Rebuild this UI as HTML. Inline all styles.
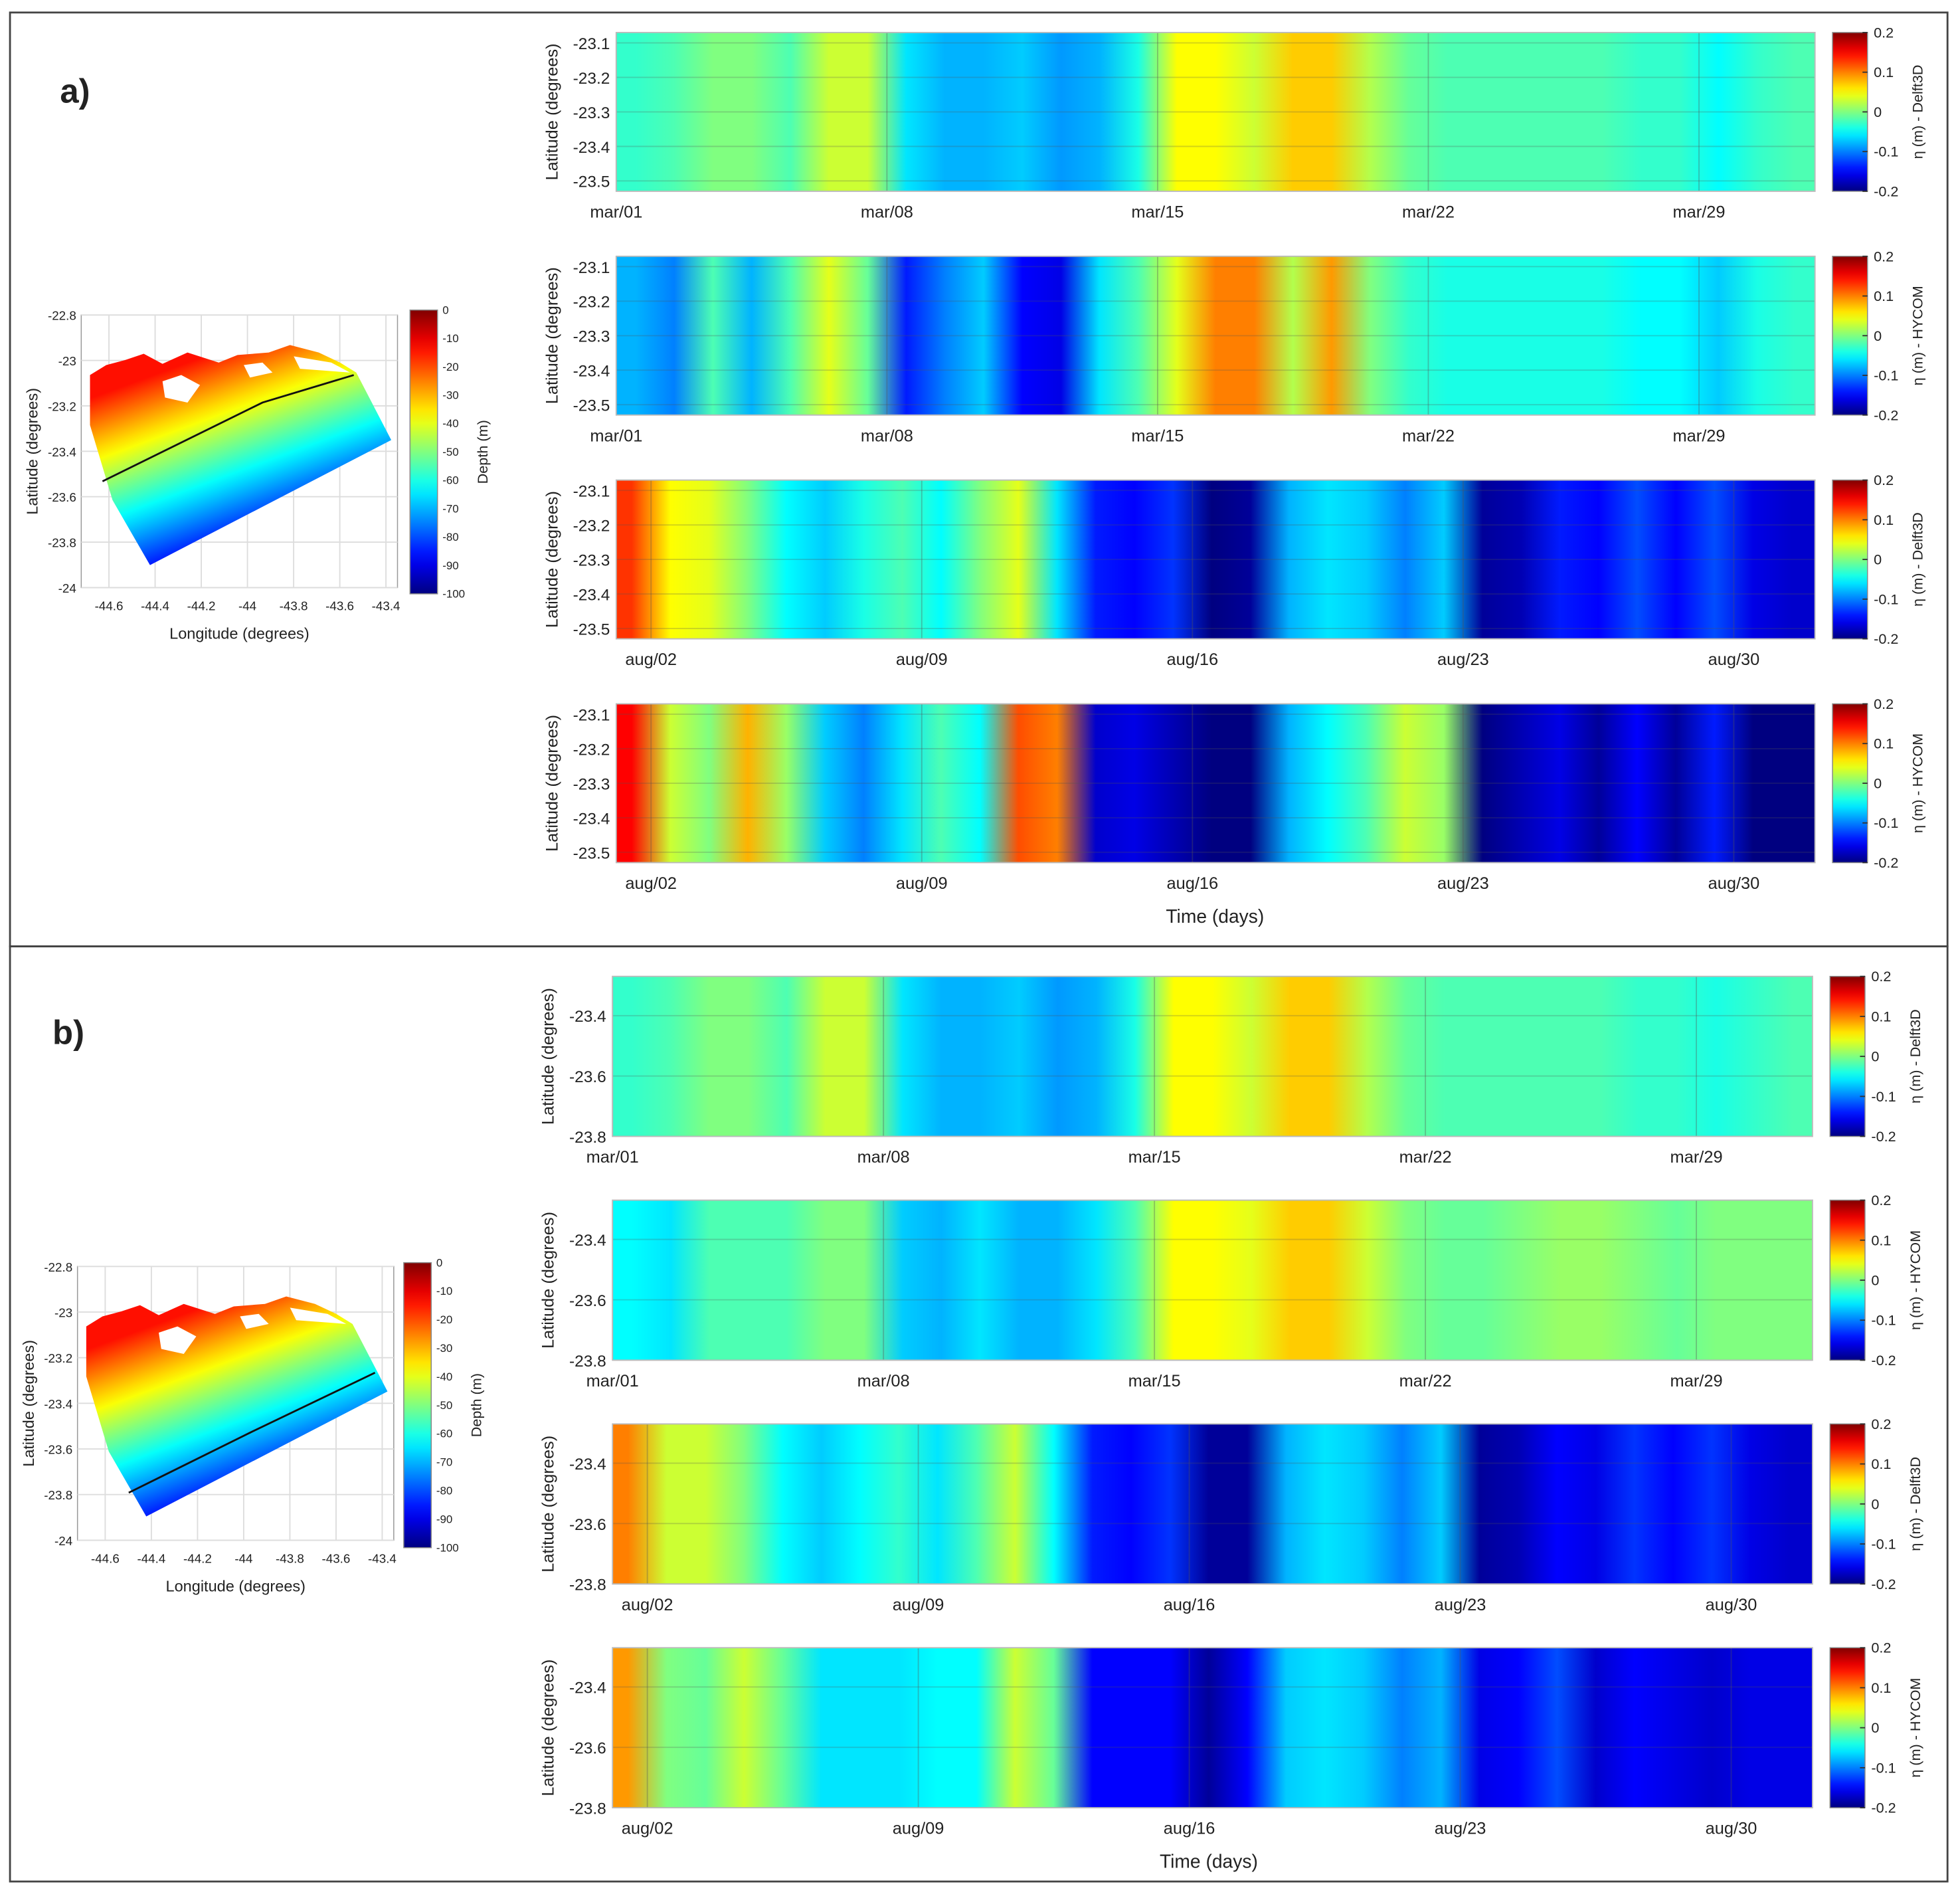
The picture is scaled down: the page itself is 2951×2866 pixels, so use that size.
<!DOCTYPE html>
<html><head><meta charset="utf-8"><style>
html,body{margin:0;padding:0;background:#fff}
svg{display:block}
text{font-family:"Liberation Sans",sans-serif;fill:#222}
</style></head><body>
<svg id="fig" xmlns="http://www.w3.org/2000/svg" width="2951" height="2866" viewBox="0 0 1568 1523" preserveAspectRatio="none">
<defs id="defs"></defs>
<rect x="0" y="0" width="1568" height="1523" fill="#fff"/>
<rect x="8" y="10" width="1550" height="747" fill="none" stroke="#444" stroke-width="1.5"/>
<rect x="8" y="757" width="1550" height="748" fill="none" stroke="#444" stroke-width="1.5"/>
<text x="48" y="82" font-size="27" font-weight="bold">a)</text>
<text x="42" y="835" font-size="27" font-weight="bold">b)</text>
<g id="root"></g>
</svg>
<script>
// ---- data: sea level anomaly (m) per day, days 1..31 ----
const days = Array.from({length:31},(_,i)=>i+1);
const marTicks = ["mar/01","mar/08","mar/15","mar/22","mar/29"];
const marTickDays = [1,8,15,22,29];
const augTicks = ["aug/02","aug/09","aug/16","aug/23","aug/30"];
const augTickDays = [2,9,16,23,30];
const latTicksA = [-23.1,-23.2,-23.3,-23.4,-23.5];
const latTicksB = [-23.4,-23.6,-23.8];
const cbTicks = [0.2,0.1,0,-0.1,-0.2];
const depthTicks = [0,-10,-20,-30,-40,-50,-60,-70,-80,-90,-100];
const lonTicks = [-44.6,-44.4,-44.2,-44,-43.8,-43.6,-43.4];
const mapLatTicks = [-22.8,-23,-23.2,-23.4,-23.6,-23.8,-24];

const a1 = [-0.03,-0.02,0.0,0.0,-0.02,0.03,0.03,-0.06,-0.08,-0.08,-0.07,-0.09,-0.08,-0.04,0.05,0.05,0.03,0.07,0.07,0.02,-0.01,-0.02,-0.02,-0.02,-0.02,-0.02,-0.03,-0.03,-0.05,-0.03,-0.02];
const a2 = [-0.08,-0.1,-0.02,-0.08,-0.02,0.04,-0.01,-0.14,-0.1,-0.07,-0.15,-0.16,-0.06,-0.02,0.04,0.1,0.1,0.02,0.09,0.0,-0.03,-0.04,-0.04,-0.04,-0.04,-0.04,-0.05,-0.05,-0.07,-0.04,-0.03];
const a3 = [0.13,0.05,0.04,0.0,-0.05,-0.07,-0.04,-0.02,-0.05,0.0,0.04,-0.06,-0.14,-0.15,-0.13,-0.2,-0.19,-0.08,-0.06,-0.07,-0.1,-0.07,-0.19,-0.18,-0.14,-0.15,-0.12,-0.15,-0.12,-0.16,-0.17];
const a4 = [0.15,0.03,0.0,0.08,0.01,-0.07,-0.1,-0.06,-0.02,-0.05,0.12,0.1,-0.17,-0.16,-0.18,-0.2,-0.2,-0.08,-0.05,-0.02,0.03,0.01,-0.2,-0.18,-0.16,-0.19,-0.15,-0.19,-0.14,-0.2,-0.2];
const b1 = [-0.03,-0.02,0.0,0.0,-0.02,0.03,0.03,-0.06,-0.08,-0.08,-0.07,-0.09,-0.08,-0.04,0.05,0.05,0.03,0.07,0.07,0.02,-0.01,-0.02,-0.02,-0.02,-0.02,-0.02,-0.03,-0.03,-0.04,-0.03,-0.02];
const b2 = [-0.05,-0.06,-0.02,-0.02,-0.02,0.0,0.0,-0.07,-0.08,-0.06,-0.08,-0.08,-0.06,-0.02,0.05,0.05,0.04,0.07,0.07,0.03,0.0,-0.01,-0.01,0.0,0.01,0.01,0.0,-0.01,0.0,0.0,0.0];
const b3 = [0.1,0.03,0.03,0.0,-0.05,-0.07,-0.05,-0.03,-0.06,-0.02,0.03,-0.05,-0.14,-0.15,-0.13,-0.19,-0.19,-0.08,-0.06,-0.07,-0.1,-0.07,-0.19,-0.18,-0.15,-0.16,-0.13,-0.15,-0.13,-0.16,-0.17];
const b4 = [0.09,0.0,-0.01,0.03,-0.01,-0.06,-0.06,-0.06,-0.05,-0.05,0.03,-0.01,-0.15,-0.15,-0.15,-0.19,-0.15,-0.07,-0.06,-0.07,-0.1,-0.08,-0.16,-0.15,-0.12,-0.17,-0.15,-0.16,-0.17,-0.16,-0.16];

const NS="http://www.w3.org/2000/svg";
const root=document.getElementById('root'), defs=document.getElementById('defs');
function el(tag,attrs,parent,txt){const e=document.createElementNS(NS,tag);for(const k in attrs)e.setAttribute(k,attrs[k]);if(txt!==undefined)e.textContent=txt;(parent||root).appendChild(e);return e;}
function cl(v){return Math.max(0,Math.min(1,v));}
function jet(t){t=cl(t);const r=cl(1.5-Math.abs(4*t-3)),g=cl(1.5-Math.abs(4*t-2)),b=cl(1.5-Math.abs(4*t-1));return `rgb(${Math.round(r*255)},${Math.round(g*255)},${Math.round(b*255)})`;}
let gid=0;
function jetGrad(vertical){const id='jg'+(gid++);const g=el('linearGradient',{id,x1:0,y1:vertical?1:0,x2:vertical?0:1,y2:0},defs);for(let i=0;i<=20;i++)el('stop',{offset:i/20,'stop-color':jet(i/20)},g);return id;}

function heatmap(cfg){
  const {x0,x1,y0,y1,vals,tickLabels,tickDays,dayOffset,latTicks,latMin,latMax,model,name}=cfg;
  const g=el('g',{});
  
  
  const xs=d=>x0+(d-dayOffset)/31*(x1-x0);
  const ys=l=>y0+(l-latMin)/(latMax-latMin)*(y1-y0);
  const id='hg'+(gid++);
  const lg=el('linearGradient',{id,gradientUnits:'userSpaceOnUse',x1:x0,y1:0,x2:x1,y2:0},defs);
  days.forEach((d,i)=>{el('stop',{offset:cl((xs(d+0.5)-x0)/(x1-x0)),'stop-color':jet((vals[i]+0.2)/0.4)},lg);});
  const r=el('rect',{x:x0,y:y0,width:x1-x0,height:y1-y0,fill:`url(#${id})`},g);
  
  
  tickDays.forEach(d=>el('line',{x1:xs(d),x2:xs(d),y1:y0,y2:y1,stroke:'#555','stroke-opacity':0.35,'stroke-width':1},g));
  latTicks.forEach(l=>el('line',{x1:x0,x2:x1,y1:ys(l),y2:ys(l),stroke:'#555','stroke-opacity':0.25,'stroke-width':1},g));
  el('rect',{x:x0,y:y0,width:x1-x0,height:y1-y0,fill:'none',stroke:'#bbb','stroke-width':1},g);
  latTicks.forEach(l=>{const t=el('text',{x:x0-5,y:ys(l)+5,'font-size':13,'text-anchor':'end'},g,String(l));});
  tickLabels.forEach((lab,i)=>{const t=el('text',{x:xs(tickDays[i]),y:y1+21,'font-size':13.5,'text-anchor':'middle'},g,lab);});
  const yl=el('text',{x:0,y:0,'font-size':13.5,'text-anchor':'middle',transform:`translate(${x0-47},${(y0+y1)/2}) rotate(-90)`},g,'Latitude (degrees)');
  
  const cx=x1+14,cw=28;
  const cid=jetGrad(true);
  const cb=el('rect',{x:cx,y:y0,width:cw,height:y1-y0,fill:`url(#${cid})`,stroke:'#888','stroke-width':0.8},g);
  
  cbTicks.forEach(v=>{const yy=y0+(0.2-v)/0.4*(y1-y0);el('line',{x1:cx+cw-4,x2:cx+cw,y1:yy,y2:yy,stroke:'#333'},g);const t=el('text',{x:cx+cw+5,y:yy+4,'font-size':11.5},g,String(v));});
  const ct=el('text',{x:0,y:0,'font-size':11.5,'text-anchor':'middle',transform:`translate(${cx+cw+44},${(y0+y1)/2}) rotate(-90)`},g,'η (m) - '+model);
  
}

const A=[[26,153],[205,332],[384,511],[563,690]], B=[[781,909],[960,1088],[1139,1267],[1318,1446]];
const aVals=[a1,a2,a3,a4], bVals=[b1,b2,b3,b4], models=['Delft3D','HYCOM','Delft3D','HYCOM'];
A.forEach((r,i)=>heatmap({x0:493,x1:1452,y0:r[0],y1:r[1],vals:aVals[i],tickLabels:i<2?marTicks:augTicks,tickDays:i<2?marTickDays:augTickDays,dayOffset:i<2?1:1.1,latTicks:latTicksA,latMin:-23.07,latMax:-23.53,model:models[i],name:'heatmap-a'+(i+1)}));
B.forEach((r,i)=>heatmap({x0:490,x1:1450,y0:r[0],y1:r[1],vals:bVals[i],tickLabels:i<2?marTicks:augTicks,tickDays:i<2?marTickDays:augTickDays,dayOffset:i<2?1:1.1,latTicks:latTicksB,latMin:-23.27,latMax:-23.8,model:models[i],name:'heatmap-b'+(i+1)}));
let t=el('text',{x:972,y:738,'font-size':15,'text-anchor':'middle'},root,'Time (days)');
t=el('text',{x:967,y:1494,'font-size':15,'text-anchor':'middle'},root,'Time (days)');

function map(cfg){
  const {ax0,ax1,ay0,ay1,cbx,cby0,cby1,line,name}=cfg;
  const g=el('g',{});
  
  const xs=v=>ax0+(v+44.72)/1.37*(ax1-ax0);
  const ys=v=>ay0+(-22.8-v)/1.2*(ay1-ay0);
  el('rect',{x:ax0,y:ay0,width:ax1-ax0,height:ay1-ay0,fill:'#fff',stroke:'#999','stroke-width':0.8},g);
  lonTicks.forEach(v=>{el('line',{x1:xs(v),x2:xs(v),y1:ay0,y2:ay1,stroke:'#ddd'},g);const tt=el('text',{x:xs(v),y:ay1+18,'font-size':10,'text-anchor':'middle'},g,String(v));});
  mapLatTicks.forEach(v=>{el('line',{x1:ax0,x2:ax1,y1:ys(v),y2:ys(v),stroke:'#ddd'},g);const tt=el('text',{x:ax0-4,y:ys(v)+4,'font-size':10,'text-anchor':'end'},g,String(v));});
  const dx=ax0-65, dy=ay0-252;
  const id='mg'+(gid++);
  const lg=el('linearGradient',{id,gradientUnits:'userSpaceOnUse',x1:150+dx,y1:290+dy,x2:205+dx,y2:440+dy},defs);
  for(let i=0;i<=20;i++)el('stop',{offset:i/20,'stop-color':jet(0.86-i/20*0.8)},lg);
  const pts=[[72,300],[85,292],[100,288],[115,283],[130,291],[150,282],[175,290],[190,284],[215,282],[232,276],[255,282],[272,290],[285,298],[313,352],[120,452],[90,400],[72,340]];
  const p=el('polygon',{points:pts.map(q=>(q[0]+dx)+','+(q[1]+dy)).join(' '),fill:`url(#${id})`},g);
  
  [[[130,305],[145,300],[160,308],[150,322],[132,318]],[[195,292],[210,290],[218,298],[200,302]],[[235,285],[265,290],[280,298],[240,295]]].forEach(is=>el('polygon',{points:is.map(q=>(q[0]+dx)+','+(q[1]+dy)).join(' '),fill:'#fff'},g));
  const tr=el('polyline',{points:line.map(q=>q.join(',')).join(' '),fill:'none',stroke:'#111','stroke-width':1.5},g);
  
  let tt=el('text',{x:(ax0+ax1)/2,y:ay1+41,'font-size':12.5,'text-anchor':'middle'},g,'Longitude (degrees)');
  tt=el('text',{x:0,y:0,'font-size':12.5,'text-anchor':'middle',transform:`translate(${ax0-35},${(ay0+ay1)/2}) rotate(-90)`},g,'Latitude (degrees)');
  const cid=jetGrad(true);
  const cb=el('rect',{x:cbx,y:cby0,width:22,height:cby1-cby0,fill:`url(#${cid})`,stroke:'#888','stroke-width':0.8},g);
  
  depthTicks.forEach(v=>{const yy=cby0+(-v)/100*(cby1-cby0);tt=el('text',{x:cbx+26,y:yy+3,'font-size':9},g,String(v));});
  tt=el('text',{x:0,y:0,'font-size':11.5,'text-anchor':'middle',transform:`translate(${cbx+62},${(cby0+cby1)/2}) rotate(-90)`},g,'Depth (m)');
}
map({ax0:65,ax1:318,ay0:252,ay1:470,cbx:328,cby0:248,cby1:475,line:[[82,385],[210,322],[283,300]],name:'map-a'});
map({ax0:62,ax1:315,ay0:1013,ay1:1232,cbx:323,cby0:1010,cby1:1238,line:[[103,1194],[200,1146],[300,1098]],name:'map-b'});
</script>
</body></html>
